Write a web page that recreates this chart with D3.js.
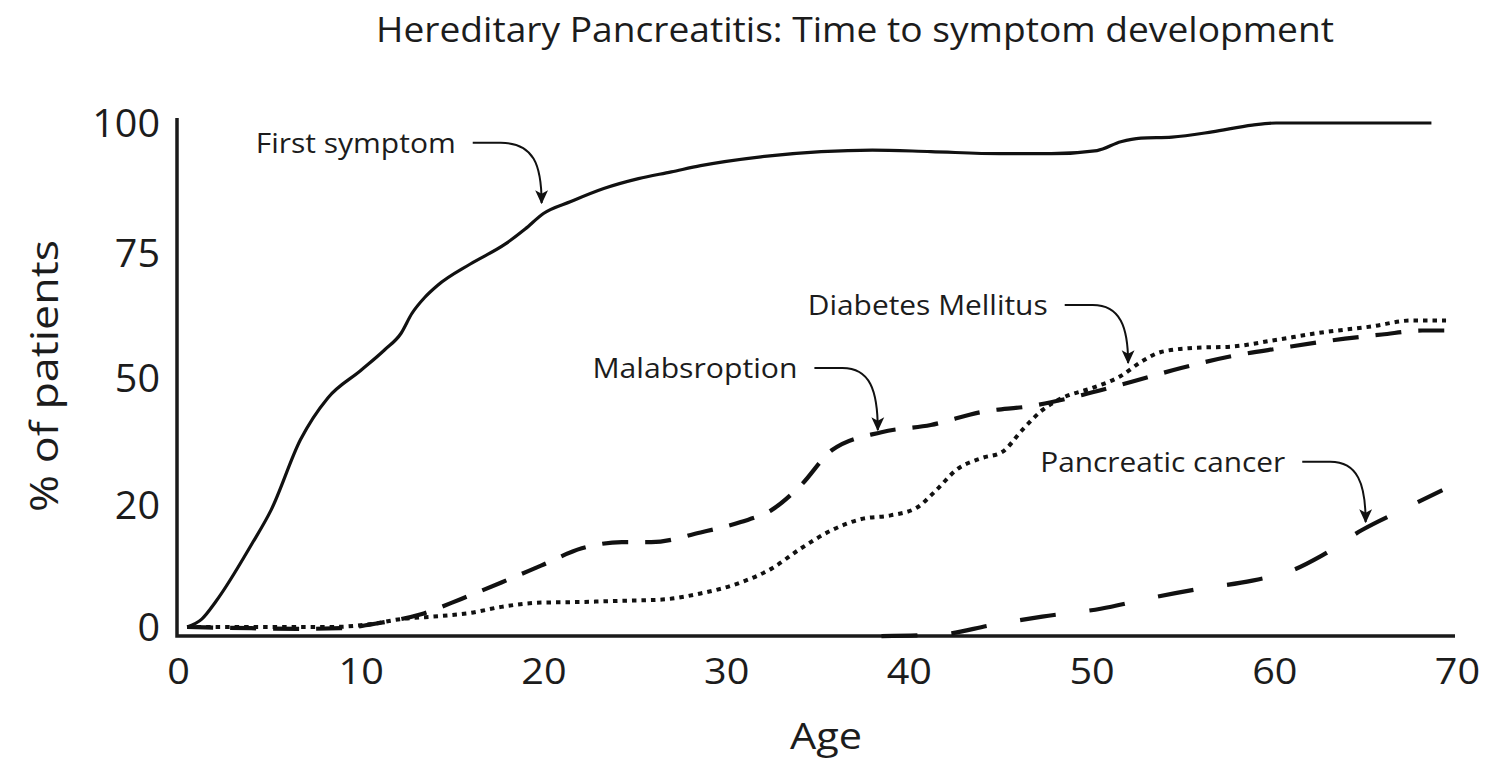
<!DOCTYPE html>
<html>
<head>
<meta charset="utf-8">
<script src="https://cdn.jsdelivr.net/npm/d3@7"></script>
<style>
  body { margin: 0; background: #fff; }
  text { font-family: "Open Sans", "Noto Sans", sans-serif; fill: #1c1c1c; }
</style>
</head>
<body>
<svg id="chart"></svg>
<script>
// values (age in years, % of patients)
var firstAge = [0.5, 1.3, 2.1, 4, 5.1, 6.7, 8.2, 10, 11.3, 12.2, 12.8, 13.5, 14.2, 16, 17.9, 19, 20, 21.5, 23.3, 25.2, 27, 28.6, 31.9, 35.2, 38, 41.2, 45, 47.8, 50.3, 51.6, 52.7, 54.4, 56.6, 58.8, 60.1, 68.6];
var firstPct = [0, 1.3, 4.3, 13.4, 19.2, 35.4, 45.3, 51.5, 55.6, 58.9, 62.9, 66.1, 68.5, 72.8, 76.7, 79.6, 82.6, 84.9, 87.4, 89.3, 90.6, 91.8, 93.5, 94.5, 94.8, 94.5, 94.1, 94.1, 94.7, 96.4, 97.1, 97.3, 98.3, 99.6, 100, 100];

var malabAge = [0.5, 4, 6.7, 8.9, 11.1, 13.3, 15.5, 17.7, 19.9, 22.1, 24.3, 25.9, 28.6, 30.8, 32.5, 34.1, 35.8, 38.5, 41.2, 44, 46.7, 49.5, 52.2, 54.9, 57.7, 60.4, 63.1, 65.9, 68.1, 70];
var malabPct = [0, -0.2, -0.3, -0.2, 0.7, 2.1, 4.6, 7.3, 10.1, 12.9, 13.9, 13.9, 15.5, 17.2, 19.2, 24.7, 33, 37.2, 38.9, 42, 43.4, 46, 49.1, 52, 54.4, 56, 57.5, 58.7, 59.5, 59.5];

var diabAge = [0.5, 8.4, 10.6, 12.2, 14.4, 16, 17.7, 19.9, 22.1, 24.3, 26.5, 28.6, 30.8, 32.5, 34.1, 35.8, 37.4, 39, 40.4, 41.5, 42.6, 44, 45.1, 46.2, 47.3, 48.4, 50, 51.6, 52.7, 53.8, 55.5, 57.7, 59.9, 62.6, 65.3, 67.5, 69.4];
var diabPct = [0, 0, 0.5, 1.3, 1.8, 2.3, 3.3, 4, 4.1, 4.3, 4.5, 5.5, 7.3, 9.6, 12.9, 15.9, 17.7, 18.3, 19.5, 23.5, 28.3, 31.1, 32.5, 37.7, 42.4, 45.3, 47.6, 50.4, 53.2, 55.2, 56, 56.3, 57.5, 59.1, 60.3, 61.5, 61.5];

var cancerAge = [38.5, 41.8, 44.5, 47.3, 50.5, 53.3, 56, 58.8, 61, 62.6, 64.8, 67, 69.2];
var cancerPct = [-1.5, -1.2, 0.3, 1.7, 3, 4.8, 6.3, 7.6, 9.3, 11.7, 15.9, 19.2, 23.5];

var xTicks = [0, 10, 20, 30, 40, 50, 60, 70];
var yTicks = [0, 20, 50, 75, 100];

var noteText = ["First symptom", "Malabsroption", "Diabetes Mellitus", "Pancreatic cancer"];
var noteEndAge = [15.2, 33.9, 47.6, 60.6];
var noteLinePct = [96.2, 52, 64.6, 30.2];
var noteTipAge = [19.9, 38.3, 52, 65];
var noteTipPct = [84.6, 37.7, 53, 17.2];

var width = 1489, height = 761;

var svg = d3.select("#chart")
    .attr("width", width)
    .attr("height", height);

var x = d3.scaleLinear().domain([0, 70]).range([178, 1457]);
// the original axis is not linear: its five labels sit at even steps
var y = d3.scaleLinear().domain(yTicks).range([627, 505, 378, 253, 123]);

function zip(a, b) {
    return a.map(function(d, i) { return [d, b[i]]; });
}

var line = d3.line()
    .x(function(d) { return x(d[0]); })
    .y(function(d) { return y(d[1]); })
    .curve(d3.curveMonotoneX);

// the source picture is stretched sideways, so text is widened to match
function widen(sel, k) {
    sel.each(function() {
        var w = this.getComputedTextLength();
        d3.select(this)
            .attr("textLength", w * k)
            .attr("lengthAdjust", "spacingAndGlyphs");
    });
}

// title
svg.append("text")
    .attr("x", 855)
    .attr("y", 42)
    .attr("text-anchor", "middle")
    .attr("font-size", 35)
    .attr("textLength", 958)
    .attr("lengthAdjust", "spacingAndGlyphs")
    .text("Hereditary Pancreatitis:  Time to symptom development");

// axis frame
svg.append("path")
    .attr("d", "M" + (x(0) - 1) + "," + (y(100) - 5) + "V" + (y(0) + 9) + "H" + (x(70) - 2))
    .attr("fill", "none")
    .attr("stroke", "#1a1a1a")
    .attr("stroke-width", 3.5);

var xAxis = svg.append("g")
    .attr("transform", "translate(0," + (y(0) + 9) + ")")
    .call(d3.axisBottom(x).tickValues(xTicks).tickSize(0).tickPadding(22));
xAxis.select(".domain").remove();
xAxis.selectAll("text")
    .attr("font-size", 36)
    .attr("font-family", "Open Sans")
    .attr("fill", "#1c1c1c")
    .call(widen, 1.1);

var yAxis = svg.append("g")
    .attr("transform", "translate(160,0)")
    .call(d3.axisLeft(y).tickValues(yTicks).tickSize(0).tickPadding(0));
yAxis.select(".domain").remove();
yAxis.selectAll("text")
    .attr("font-size", 38)
    .attr("font-family", "Open Sans")
    .attr("fill", "#1c1c1c")
    .attr("dy", "0.36em")
    .call(widen, 1.04);

svg.append("text")
    .attr("x", 826)
    .attr("y", 749)
    .attr("text-anchor", "middle")
    .attr("font-size", 36)
    .attr("textLength", 72)
    .attr("lengthAdjust", "spacingAndGlyphs")
    .text("Age");

svg.append("text")
    .attr("transform", "translate(58,376) rotate(-90)")
    .attr("text-anchor", "middle")
    .attr("font-size", 38)
    .attr("textLength", 272)
    .attr("lengthAdjust", "spacingAndGlyphs")
    .text("% of patients");

// curves
var series = [
    { pts: zip(firstAge, firstPct), dash: null, w: 3.2 },
    { pts: zip(malabAge, malabPct), dash: "26,17", w: 4.2 },
    { pts: zip(diabAge, diabPct), dash: "4.5,5", w: 4 },
    { pts: zip(cancerAge, cancerPct), dash: "36,34", w: 4.2 }
];

svg.selectAll(".curve")
    .data(series)
    .enter().append("path")
    .attr("class", "curve")
    .attr("d", function(d) { return line(d.pts); })
    .attr("fill", "none")
    .attr("stroke", "#111")
    .attr("stroke-width", function(d) { return d.w; })
    .attr("stroke-dasharray", function(d) { return d.dash; });

// annotations
svg.append("defs").append("marker")
    .attr("id", "arrow")
    .attr("markerUnits", "userSpaceOnUse")
    .attr("viewBox", "0 0 12 12")
    .attr("refX", 11)
    .attr("refY", 6)
    .attr("markerWidth", 14)
    .attr("markerHeight", 14)
    .attr("orient", "auto")
    .append("path")
    .attr("d", "M0,0.5L12,6L0,11.5L3,6Z")
    .attr("fill", "#111");

var noteWidth = [200, 205, 240, 245];

var notes = noteText.map(function(t, i) {
    return { text: t, ex: x(noteEndAge[i]), ly: y(noteLinePct[i]),
             tx: x(noteTipAge[i]), ty: y(noteTipPct[i]), w: noteWidth[i] };
});

var note = svg.selectAll(".note")
    .data(notes)
    .enter().append("g")
    .attr("class", "note");

note.append("text")
    .attr("x", function(d) { return d.ex; })
    .attr("y", function(d) { return d.ly + 10; })
    .attr("text-anchor", "end")
    .attr("font-size", 27)
    .attr("textLength", function(d) { return d.w; })
    .attr("lengthAdjust", "spacingAndGlyphs")
    .text(function(d) { return d.text; });

note.append("path")
    .attr("d", function(d) {
        var sx = d.ex + 17;
        return "M" + sx + "," + d.ly + "H" + (sx + 28) +
            "C" + (d.tx - 8) + "," + d.ly + " " + d.tx + "," + (d.ly + 22) + " " + d.tx + "," + d.ty;
    })
    .attr("fill", "none")
    .attr("stroke", "#111")
    .attr("stroke-width", 2)
    .attr("marker-end", "url(#arrow)");
</script>
</body>
</html>
